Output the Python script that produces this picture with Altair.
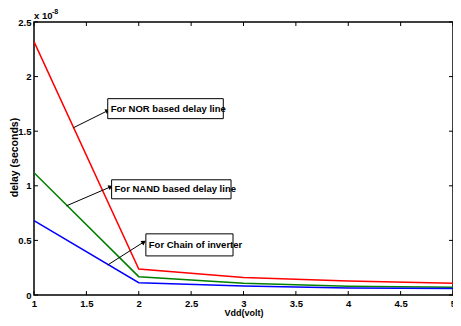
import altair as alt
import pandas as pd

# ---- data ----
vdd = [1, 2, 3, 4, 5]
nor_delay = [2.32, 0.238, 0.16, 0.128, 0.107]
nand_delay = [1.12, 0.168, 0.107, 0.08, 0.07]
chain_delay = [0.68, 0.113, 0.083, 0.065, 0.06]
series_names = ["NOR", "NAND", "Chain"]
series_colors = ["#FF0000", "#008000", "#0000FF"]

x_ticks = [1, 1.5, 2, 2.5, 3, 3.5, 4, 4.5, 5]
y_ticks = [0, 0.5, 1, 1.5, 2, 2.5]

ann_text = ["For NOR based delay line", "For NAND based delay line", "For Chain of inverter"]
ann_text_x = [1.732, 1.769, 2.096]
ann_text_y = [1.706, 0.972, 0.459]
box_x1 = [1.704, 1.741, 2.068]
box_x2 = [2.807, 2.881, 2.900]
box_y1 = [1.615, 0.881, 0.358]
box_y2 = [1.798, 1.055, 0.560]
arrow_x1 = [1.377, 1.311, 1.704]
arrow_y1 = [1.532, 0.817, 0.275]
arrow_x2 = [1.704, 1.732, 2.049]
arrow_y2 = [1.688, 0.991, 0.486]
arrow_angle = [334, 337, 328]

W, H = 419, 273
FONT = "Liberation Sans"

rows = []
for name, vals in zip(series_names, [nor_delay, nand_delay, chain_delay]):
    for v, d in zip(vdd, vals):
        rows.append({"Vdd": v, "delay": d, "series": name})
df = pd.DataFrame(rows)

ann = pd.DataFrame({
    "text": ann_text, "tx": ann_text_x, "ty": ann_text_y,
    "bx1": box_x1, "bx2": box_x2, "by1": box_y1, "by2": box_y2,
    "ax1": arrow_x1, "ay1": arrow_y1, "ax2": arrow_x2, "ay2": arrow_y2,
    "angle": arrow_angle,
})
xt = pd.DataFrame({"t": x_ticks})
yt = pd.DataFrame({"t": y_ticks})

xs = alt.Scale(domain=[1, 5], nice=False, zero=False)
ys = alt.Scale(domain=[0, 2.5], nice=False, zero=False)

xa = alt.Axis(title="Vdd(volt)", values=x_ticks, format="~g", ticks=False, domain=False,
              grid=False, labelFont=FONT, labelFontWeight="bold", labelFontSize=9.5,
              labelColor="black", labelPadding=3, labelFlush=False,
              titleFont=FONT, titleFontWeight="bold", titleFontSize=9, titleColor="black",
              titleX=W / 2, titleY=17, titleBaseline="middle")
ya = alt.Axis(title="delay (seconds)", values=y_ticks, format="~g", ticks=False, domain=False,
              grid=False, labelFont=FONT, labelFontWeight="bold", labelFontSize=9.5,
              labelColor="black", labelPadding=3, labelFlush=False,
              titleFont=FONT, titleFontWeight="bold", titleFontSize=10.5, titleColor="black",
              titleX=-20, titleY=135, titleAngle=270, titleAlign="center",
              titleBaseline="middle")

lines = alt.Chart(df).mark_line(strokeWidth=1.5, clip=True).encode(
    x=alt.X("Vdd:Q", scale=xs, axis=xa),
    y=alt.Y("delay:Q", scale=ys, axis=ya),
    color=alt.Color("series:N", scale=alt.Scale(domain=series_names, range=series_colors), legend=None),
    detail="series:N",
)

tick_bottom = alt.Chart(xt).mark_rule(color="black", strokeWidth=1).encode(
    x=alt.X("t:Q", scale=xs, axis=xa), y=alt.value(H - 4), y2=alt.value(H))
tick_top = alt.Chart(xt).mark_rule(color="black", strokeWidth=1).encode(
    x=alt.X("t:Q", scale=xs, axis=xa), y=alt.value(0), y2=alt.value(4))
tick_left = alt.Chart(yt).mark_rule(color="black", strokeWidth=1).encode(
    y=alt.Y("t:Q", scale=ys, axis=ya), x=alt.value(0), x2=alt.value(4))
tick_right = alt.Chart(yt).mark_rule(color="black", strokeWidth=1).encode(
    y=alt.Y("t:Q", scale=ys, axis=ya), x=alt.value(W - 4), x2=alt.value(W))

boxes = alt.Chart(ann).mark_rect(fill="white", stroke="black", strokeWidth=1).encode(
    x=alt.X("bx1:Q", scale=xs, axis=xa), x2="bx2:Q",
    y=alt.Y("by1:Q", scale=ys, axis=ya), y2="by2:Q")
texts = alt.Chart(ann).mark_text(align="left", baseline="middle", font=FONT, fontWeight="bold",
                                 fontSize=9.5, color="black").encode(
    x=alt.X("tx:Q", scale=xs, axis=xa), y=alt.Y("ty:Q", scale=ys, axis=ya), text="text:N")
arrows = alt.Chart(ann).mark_rule(color="black", strokeWidth=1).encode(
    x=alt.X("ax1:Q", scale=xs, axis=xa), y=alt.Y("ay1:Q", scale=ys, axis=ya),
    x2="ax2:Q", y2="ay2:Q")
heads = alt.Chart(ann).mark_point(shape="triangle-right", filled=True, color="black", size=28,
                                  opacity=1).encode(
    x=alt.X("ax2:Q", scale=xs, axis=xa), y=alt.Y("ay2:Q", scale=ys, axis=ya),
    angle=alt.Angle("angle:Q", scale=None))

exp_base = alt.Chart(ann.head(1)).mark_text(align="left", baseline="alphabetic", font=FONT,
                                            fontWeight="bold", fontSize=9.5, color="black").encode(
    x=alt.value(0), y=alt.value(-3), text=alt.value("x 10"))
exp_sup = alt.Chart(ann.head(1)).mark_text(align="left", baseline="alphabetic", font=FONT,
                                           fontWeight="bold", fontSize=7, color="black").encode(
    x=alt.value(18), y=alt.value(-8), text=alt.value("-8"))

chart = alt.layer(
    lines, tick_bottom, tick_top, tick_left, tick_right, arrows, heads, boxes, texts, exp_base, exp_sup
).properties(
    width=W, height=H,
    autosize=alt.AutoSizeParams(type="none"),
    padding={"left": 26, "top": 14, "right": 0, "bottom": 23},
    background="white",
).configure_view(stroke="black", strokeWidth=1.5)

chart.save("out.html", embed_options={"renderer": "svg", "actions": False})
